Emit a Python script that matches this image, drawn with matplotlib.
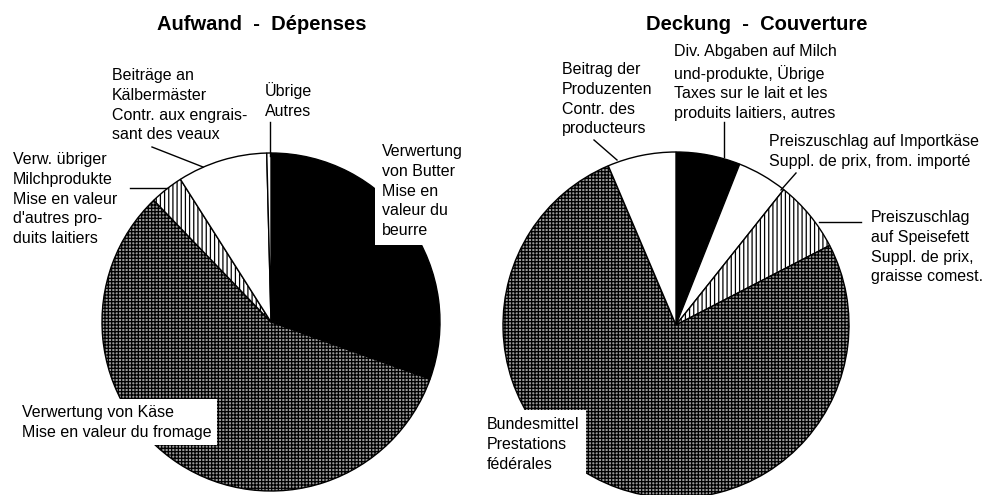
import matplotlib
matplotlib.use("Agg")
import matplotlib.pyplot as plt
from matplotlib.lines import Line2D

plt.rcParams['font.family'] = ['Liberation Sans', 'DejaVu Sans']
plt.rcParams['hatch.linewidth'] = 0.9

W, H = 988, 495

# Aufwand - Dépenses (shares in %, clockwise from 12 o'clock)
exp_labels = ["Verwertung von Butter", "Verwertung von Käse", "Verw. übriger Milchprodukte",
              "Beiträge an Kälbermäster", "Übrige"]
exp_values = [30.5, 57.3, 3.2, 8.6, 0.4]

# Deckung - Couverture
cov_labels = ["Div. Abgaben auf Milch", "Preiszuschlag auf Importkäse",
              "Preiszuschlag auf Speisefett", "Bundesmittel", "Beitrag der Produzenten"]
cov_values = [6.0, 4.7, 6.7, 76.2, 6.4]

exp_style = [('black', None), ('#9a9a9a', '+++++'), ('white', '||||'), ('white', None), ('white', None)]
cov_style = [('black', None), ('white', None), ('white', '||||'), ('#9a9a9a', '+++++'), ('white', None)]


def px(x, y):
    return x / W, 1 - y / H


def pie_axes(cx, cy, r):
    return fig.add_axes([(cx - r) / W, (H - cy - r) / H, 2 * r / W, 2 * r / H])


def draw_pie(ax, values, styles):
    wedges, _ = ax.pie(values, startangle=90, counterclock=False, radius=1,
                       wedgeprops=dict(edgecolor='black', linewidth=1.0))
    for w, (fc, hatch) in zip(wedges, styles):
        w.set_facecolor(fc)
        if hatch:
            w.set_hatch(hatch)
    ax.set_xlim(-1, 1)
    ax.set_ylim(-1, 1)
    ax.axis('off')


def label(x, y, s, box=None):
    kw = dict(ha='left', va='top', fontsize=11.5, linespacing=1.4)
    if box:
        kw['bbox'] = dict(facecolor='white', edgecolor='none', pad=box)
    fig.text(*px(x, y), s, **kw)


def leader(x0, y0, x1, y1):
    a = px(x0, y0)
    b = px(x1, y1)
    fig.add_artist(Line2D([a[0], b[0]], [a[1], b[1]], color='black', lw=1.0))


fig = plt.figure(figsize=(W / 100, H / 100), dpi=100)

ax1 = pie_axes(271, 322, 169)
draw_pie(ax1, exp_values, exp_style)
ax2 = pie_axes(676, 325, 173)
draw_pie(ax2, cov_values, cov_style)

fig.text(*px(262, 24), "Aufwand  -  Dépenses", ha='center', va='center',
         fontsize=14.5, fontweight='bold')
fig.text(*px(757, 24), "Deckung  -  Couverture", ha='center', va='center',
         fontsize=14.5, fontweight='bold')

label(112, 68, "Beiträge an\nKälbermäster\nContr. aux engrais-\nsant des veaux")
leader(152, 147, 203, 167)
label(265, 82, "Übrige\nAutres")
leader(270, 122, 270, 156)
label(382, 144, "Verwertung\nvon Butter\nMise en\nvaleur du\nbeurre", box=5)
label(13, 152, "Verw. übriger\nMilchprodukte\nMise en valeur\nd'autres pro-\nduits laitiers")
leader(130, 188, 167, 188)
label(22, 405, "Verwertung von Käse\nMise en valeur du fromage", box=4)

label(562, 62, "Beitrag der\nProduzenten\nContr. des\nproducteurs")
leader(594, 140, 617, 160)
label(674, 44, "Div. Abgaben auf Milch\nund-produkte, Übrige\nTaxes sur le lait et les\nproduits laitiers, autres")
leader(724, 122, 724, 157)
label(769, 134, "Preiszuschlag auf Importkäse\nSuppl. de prix, from. importé")
leader(796, 173, 781, 190)
label(871, 210, "Preiszuschlag\nauf Speisefett\nSuppl. de prix,\ngraisse comest.")
leader(819, 222, 861, 222)
label(487, 417, "Bundesmittel\nPrestations\nfédérales", box=5)

fig.savefig("out.png", dpi=100)
